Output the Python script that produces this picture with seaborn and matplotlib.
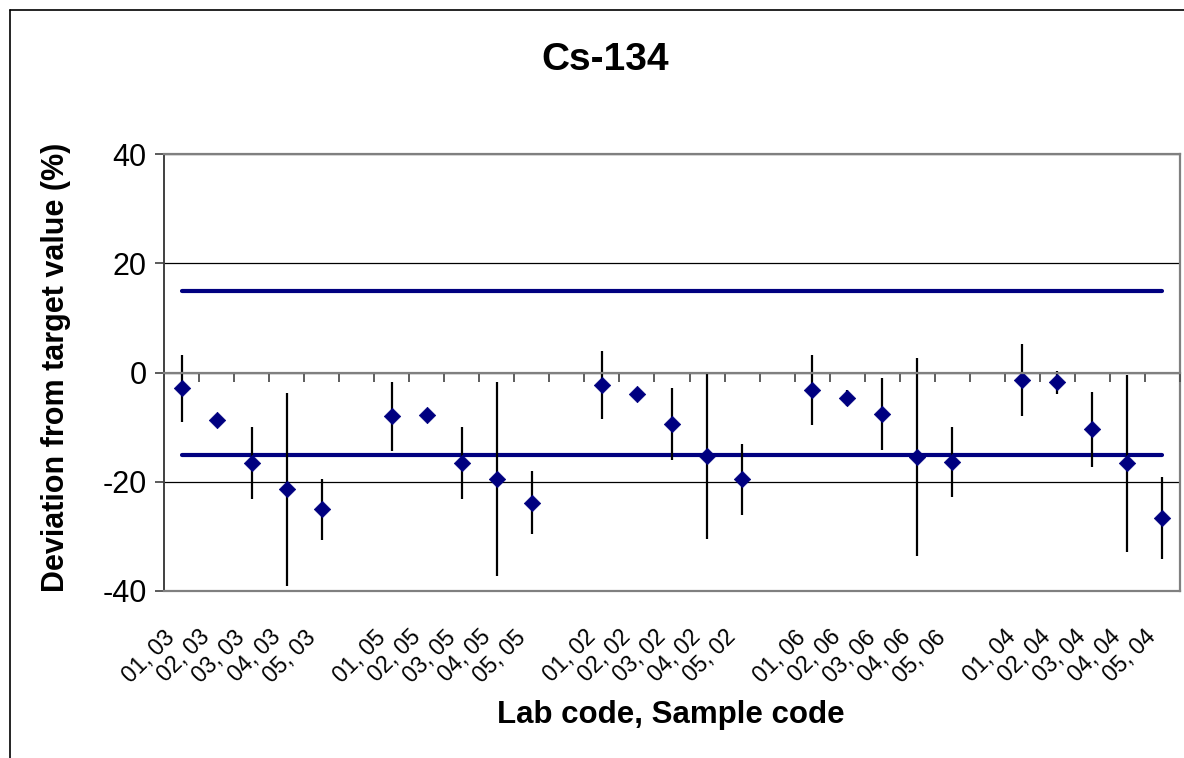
import numpy as np
import pandas as pd
import matplotlib
matplotlib.use("Agg")
import matplotlib.pyplot as plt
import matplotlib.transforms as mtransforms
import seaborn as sns

# ---- data ----
lab_codes = ["01", "02", "03", "04", "05"]
sample_codes = ["03", "05", "02", "06", "04"]
deviation = [
    [-2.9, -8.7, -16.6, -21.4, -25.0],   # sample 03
    [-8.0, -7.7, -16.6, -19.5, -23.8],   # sample 05
    [-2.2, -4.0, -9.4, -15.2, -19.5],    # sample 02
    [-3.2, -4.7, -7.6, -15.5, -16.3],    # sample 06
    [-1.4, -1.8, -10.4, -16.6, -26.7],   # sample 04
]
uncertainty = [
    [6.2, 1.0, 6.6, 17.6, 5.6],
    [6.3, 1.0, 6.6, 17.8, 5.7],
    [6.2, 1.0, 6.6, 15.2, 6.5],
    [6.4, 1.5, 6.6, 18.1, 6.4],
    [6.6, 2.1, 6.8, 16.2, 7.5],
]
limits = [15, -15]
y_ticks = [-40, -20, 0, 20, 40]

# ---- build long table (blank slot between sample groups) ----
rows = []
for g, s in enumerate(sample_codes):
    for i, lab in enumerate(lab_codes):
        rows.append(dict(pos=g * (len(lab_codes) + 1) + i,
                         label=f"{lab}, {s}",
                         dev=deviation[g][i], unc=uncertainty[g][i]))
df = pd.DataFrame(rows)
n_slots = len(sample_codes) * (len(lab_codes) + 1) - 1

sns.set_theme(style="white")
plt.rcParams["font.family"] = ["Liberation Sans", "DejaVu Sans"]
plt.rcParams["text.color"] = "black"
plt.rcParams["xtick.color"] = "black"
plt.rcParams["ytick.color"] = "black"
plt.rcParams["axes.labelcolor"] = "black"

W, H = 1184, 758
fig = plt.figure(figsize=(W / 100, H / 100), dpi=100)
ax = fig.add_axes([164 / W, 1 - 591 / H, (1180 - 164) / W, (591 - 154.3) / H])

navy = "#000080"

# limit lines
for lim in limits:
    ldf = pd.DataFrame({"x": [df["pos"].min(), df["pos"].max()], "y": [lim, lim]})
    sns.lineplot(data=ldf, x="x", y="y", ax=ax, color=navy, linewidth=3.0, zorder=3)

# error bars
ax.errorbar(df["pos"], df["dev"], yerr=df["unc"], fmt="none", ecolor="black",
            elinewidth=1.6, capsize=0, zorder=4)

# points
sns.scatterplot(data=df, x="pos", y="dev", ax=ax, marker="D", s=70, color=navy,
                edgecolor=navy, linewidth=0.5, zorder=5)

ax.set_xlim(-0.5, n_slots - 0.5)
ax.set_ylim(-40, 40)

# gridlines
ax.set_yticks(y_ticks)
ax.yaxis.grid(True, color="black", linewidth=0.9)
ax.xaxis.grid(False)
ax.set_axisbelow(True)

for side in ["top", "right", "bottom"]:
    ax.spines[side].set_color("#808080")
    ax.spines[side].set_linewidth(1.6)
ax.spines["left"].set_color("#404040")
ax.spines["left"].set_linewidth(1.4)

ax.tick_params(axis="y", direction="out", length=6.5, width=1.2, color="#404040",
               labelsize=22, labelcolor="black", pad=6, left=True)
ax.set_yticklabels([str(v) for v in y_ticks])

# x tick labels at bottom
ax.set_xticks(df["pos"])
ax.set_xticklabels(df["label"], rotation=45, ha="right", va="top",
                   rotation_mode="anchor", fontsize=16.5, color="black")
ax.tick_params(axis="x", length=0, pad=25, bottom=True)
offset = mtransforms.ScaledTranslation(-18 / 100, 0, fig.dpi_scale_trans)
for lbl in ax.get_xticklabels():
    lbl.set_transform(lbl.get_transform() + offset)

ax.set_xlabel("")
ax.set_ylabel("")

# category axis crossing at zero
ax2 = ax.twiny()
ax2.set_xlim(ax.get_xlim())
ax2.xaxis.set_ticks_position("bottom")
ax2.spines["bottom"].set_position(("data", 0))
for side in ["top", "right", "left"]:
    ax2.spines[side].set_visible(False)
ax2.spines["bottom"].set_color("#808080")
ax2.spines["bottom"].set_linewidth(1.6)
ax2.set_xticks(np.arange(0.5, n_slots, 1.0))
ax2.set_xticklabels([])
ax2.tick_params(axis="x", direction="out", length=6.5, width=1.3, color="#505050",
                bottom=True, top=False)
ax2.grid(False)

# texts
fig.text(605 / W, 1 - 60 / H, "Cs-134", ha="center", va="center",
         fontsize=28, fontweight="bold", color="black")
fig.text(671 / W, 1 - 715 / H, "Lab code, Sample code", ha="center", va="center",
         fontsize=22.5, fontweight="bold", color="black")
fig.text(56 / W, 1 - 367 / H, "Deviation from target value (%)", ha="center",
         va="center", rotation=90, fontsize=22, fontweight="bold", color="black")

# chart border (top and left visible)
fig.add_artist(plt.Line2D([9.5 / W, 1], [1 - 9.5 / H, 1 - 9.5 / H],
                          transform=fig.transFigure, color="black", linewidth=1.2))
fig.add_artist(plt.Line2D([9.5 / W, 9.5 / W], [0, 1 - 9.5 / H],
                          transform=fig.transFigure, color="black", linewidth=1.2))

fig.savefig("out.png", dpi=100)
